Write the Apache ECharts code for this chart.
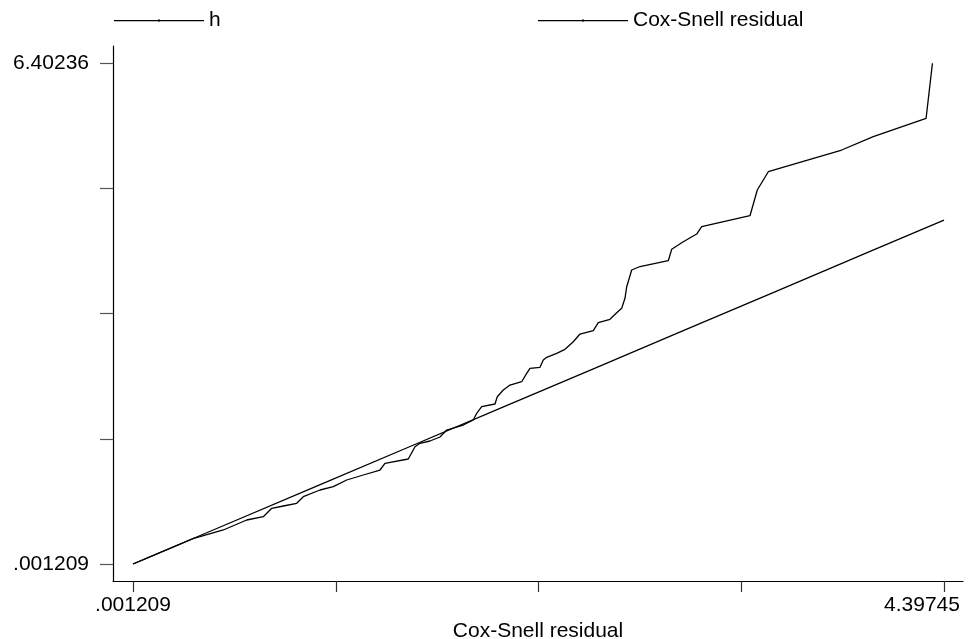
<!DOCTYPE html>
<html>
<head>
    <title>Cox-Snell residual</title>
    <meta http-equiv="content-type" content="text/html; charset=utf-8">
    <script src="https://cdn.jsdelivr.net/npm/echarts@6/dist/echarts.min.js"></script>
    <style type="text/css">
    html,body{margin:0;padding:0;background:#fff;}
    #main{width:969px;height:639px;}
    </style>
</head>
<body>
    <div id="main"></div>
    <script>
    // Nelson-Aalen cumulative hazard (h) against Cox-Snell residual
    var hX = [0.001209, 0.08, 0.16, 0.25, 0.33, 0.3644, 0.4907, 0.6176, 0.7075, 0.7531, 0.8160, 0.8886,
        0.9244, 1.0149, 1.0870, 1.1596, 1.2496, 1.3401, 1.3672, 1.4935, 1.5298, 1.5569, 1.6111,
        1.6653, 1.7016, 1.7916, 1.8458, 1.8643, 1.8914, 1.9635, 1.9759, 2.0085, 2.0448, 2.1082,
        2.1353, 2.1532, 2.2074, 2.2253, 2.2437, 2.2979, 2.3429, 2.3879, 2.4242, 2.4963, 2.5234,
        2.5868, 2.6232, 2.6503, 2.6681, 2.6774, 2.7045, 2.7495, 2.9029, 2.9213, 2.9842, 3.0568,
        3.0839, 3.3457, 3.3853, 3.4449, 3.8428, 4.0141, 4.3003, 4.3348];
    var hY = [0.001209, 0.08, 0.16, 0.25, 0.33, 0.3502, 0.4359, 0.5637, 0.6059, 0.7133, 0.7427, 0.7772,
        0.8616, 0.9473, 0.9894, 1.0751, 1.1390, 1.2029, 1.2886, 1.3435, 1.5008, 1.5442, 1.5736,
        1.6248, 1.7143, 1.7782, 1.8421, 1.9277, 2.0121, 2.0466, 2.1399, 2.2256, 2.2895, 2.3317,
        2.4391, 2.5030, 2.5158, 2.6091, 2.6436, 2.6948, 2.7459, 2.8430, 2.9415, 2.9836, 3.0859,
        3.1294, 3.2137, 3.2700, 3.3978, 3.5461, 3.7596, 3.8044, 3.8785, 4.0243, 4.1214, 4.2199,
        4.3132, 4.4538, 4.7823, 5.0163, 5.2937, 5.4637, 5.6990, 6.40236];
    // Cox-Snell residual plotted against itself
    var cs = [0.001209, 0.5, 1.0, 1.5, 2.0, 2.5, 3.0, 3.5, 4.0, 4.39745];

    var xTicks = [0.001209, 1.10027, 2.19933, 3.29839, 4.39745];
    var xLabels = [0.001209, 4.39745];
    var yTicks = [0.001209, 1.60150, 3.20179, 4.80207, 6.40236];
    var yLabels = [0.001209, 6.40236];

    var hData = hX.map(function (x, i) { return [x, hY[i]]; });
    var csData = cs.map(function (x) { return [x, x]; });

    function fmt(v) {
        return String(v).replace(/^0\./, '.');
    }

    var font = 'Liberation Sans, Arial, sans-serif';
    var legendIcon = 'path://M0,1 H90 V2.2 H0 Z M44.5,0 H45.5 V3 H44.5 Z';

    var chart = echarts.init(document.getElementById('main'));
    var option = {
        backgroundColor: '#fff',
        animation: false,
        legend: [
            {
                left: 114, top: 10, padding: 0,
                data: ['h'],
                icon: legendIcon, itemWidth: 90, itemHeight: 3,
                textStyle: {fontFamily: font, fontSize: 21, color: '#000'}
            },
            {
                left: 538, top: 10, padding: 0,
                data: ['Cox-Snell residual'],
                icon: legendIcon, itemWidth: 90, itemHeight: 3,
                textStyle: {fontFamily: font, fontSize: 21, color: '#000'}
            }
        ],
        grid: {left: 113, right: 6, top: 46, bottom: 58, outerBoundsMode: 'none', containLabel: false},
        xAxis: {
            type: 'value',
            min: -0.10721,
            max: 4.50045,
            name: 'Cox-Snell residual',
            nameLocation: 'middle',
            nameGap: 35,
            nameTextStyle: {fontFamily: font, fontSize: 21, color: '#000'},
            axisLine: {show: true, onZero: false, lineStyle: {color: '#000', width: 1.2}},
            axisTick: {show: true, length: 11, customValues: xTicks, lineStyle: {color: '#333', width: 1.2}},
            axisLabel: {
                customValues: xLabels, margin: 14,
                fontFamily: font, fontSize: 21, color: '#000',
                formatter: function (v) {
                    // last label is pulled in so it stays inside the picture
                    if (v === xLabels[xLabels.length - 1]) {
                        return '{v|' + fmt(v) + '}{s|}';
                    }
                    return '{v|' + fmt(v) + '}';
                },
                rich: {
                    v: {fontFamily: font, fontSize: 21, color: '#000'},
                    s: {width: 44}
                }
            },
            splitLine: {show: false}
        },
        yAxis: {
            type: 'value',
            min: -0.21612,
            max: 6.62352,
            axisLine: {show: true, onZero: false, lineStyle: {color: '#000', width: 1.2}},
            axisTick: {show: true, length: 13, customValues: yTicks, lineStyle: {color: '#555', width: 1.2}},
            axisLabel: {
                customValues: yLabels, margin: 24,
                fontFamily: font, fontSize: 21, color: '#000',
                formatter: fmt
            },
            splitLine: {show: false}
        },
        series: [
            {
                name: 'h',
                type: 'line',
                data: hData,
                showSymbol: false,
                color: '#000',
                lineStyle: {color: '#000', width: 1.3}
            },
            {
                name: 'Cox-Snell residual',
                type: 'line',
                data: csData,
                showSymbol: false,
                color: '#000',
                lineStyle: {color: '#000', width: 1.3}
            }
        ]
    };
    chart.setOption(option);
    </script>
</body>
</html>
